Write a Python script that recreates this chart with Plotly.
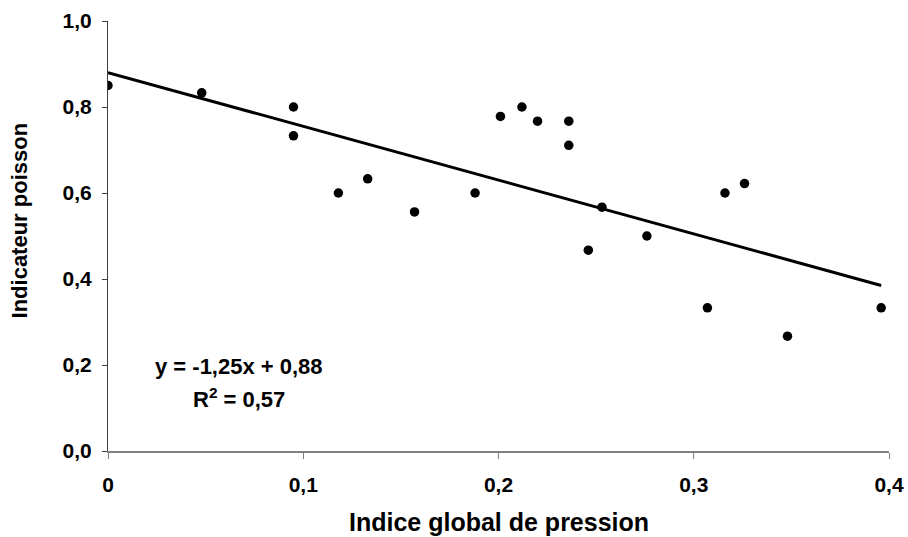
import plotly.graph_objects as go

# Data
pression = [0.0, 0.048, 0.095, 0.095, 0.118, 0.133, 0.157, 0.188, 0.201, 0.212,
            0.220, 0.236, 0.236, 0.253, 0.246, 0.276, 0.316, 0.326, 0.307, 0.348, 0.396]
poisson = [0.85, 0.833, 0.80, 0.733, 0.60, 0.633, 0.556, 0.60, 0.778, 0.80,
           0.767, 0.767, 0.711, 0.567, 0.467, 0.50, 0.60, 0.622, 0.333, 0.267, 0.333]

slope = -1.25
intercept = 0.88
r2 = 0.57

x_ticks = [0, 0.1, 0.2, 0.3, 0.4]
x_ticktext = ["0", "0,1", "0,2", "0,3", "0,4"]
y_ticks = [0, 0.2, 0.4, 0.6, 0.8, 1.0]
y_ticktext = ["0,0", "0,2", "0,4", "0,6", "0,8", "1,0"]

FONT = "Liberation Sans, Arial, sans-serif"

x_line = [0, max(pression)]
y_line = [slope * v + intercept for v in x_line]

fig = go.Figure()
fig.add_trace(go.Scatter(x=x_line, y=y_line, mode="lines",
                         line=dict(color="black", width=3), hoverinfo="skip",
                         showlegend=False))
fig.add_trace(go.Scatter(x=pression, y=poisson, mode="markers",
                         marker=dict(color="black", size=9.5), showlegend=False))

fig.add_annotation(x=0.0232, y=0.196, xref="x", yref="y", xanchor="left", yanchor="middle",
                   text="<b>y = -1,25x + 0,88</b>", showarrow=False,
                   font=dict(family=FONT, size=22, color="black"))
fig.add_annotation(x=0.067, y=0.123, xref="x", yref="y", xanchor="center", yanchor="middle",
                   text="<b>R<sup>2</sup> = 0,57</b>", showarrow=False,
                   font=dict(family=FONT, size=22, color="black"))

# Axis titles
fig.add_annotation(x=0.5, y=0, xref="paper", yref="paper", xanchor="center", yanchor="middle",
                   yshift=-71, text="<b>Indice global de pression</b>", showarrow=False,
                   font=dict(family=FONT, size=25, color="black"))
fig.add_annotation(x=0, y=0.535, xref="paper", yref="paper", xanchor="center", yanchor="middle",
                   xshift=-88.5, textangle=-90, text="<b>Indicateur poisson</b>", showarrow=False,
                   font=dict(family=FONT, size=22, color="black"))

fig.update_layout(
    width=908, height=537,
    margin=dict(l=108, r=19, t=21, b=86),
    paper_bgcolor="white", plot_bgcolor="white",
    font=dict(family=FONT, color="black"),
    showlegend=False,
)
fig.update_xaxes(
    range=[0, 0.4], tickvals=x_ticks, ticktext=x_ticktext, automargin=False,
    showgrid=False, zeroline=False, showline=True, linecolor="#808080", linewidth=2,
    ticks="outside", ticklen=6, tickcolor="#808080", tickwidth=1,
    tickfont=dict(family=FONT, size=21, color="black", weight="bold"),
    ticklabelstandoff=8,
)
fig.update_yaxes(
    range=[0, 1.0], tickvals=y_ticks, ticktext=y_ticktext, automargin=False,
    showgrid=False, zeroline=False, showline=True, linecolor="#404040", linewidth=1,
    ticks="outside", ticklen=5, tickcolor="#404040", tickwidth=1,
    tickfont=dict(family=FONT, size=21, color="black", weight="bold"),
    ticklabelstandoff=6,
)

fig.write_html("out.html")
